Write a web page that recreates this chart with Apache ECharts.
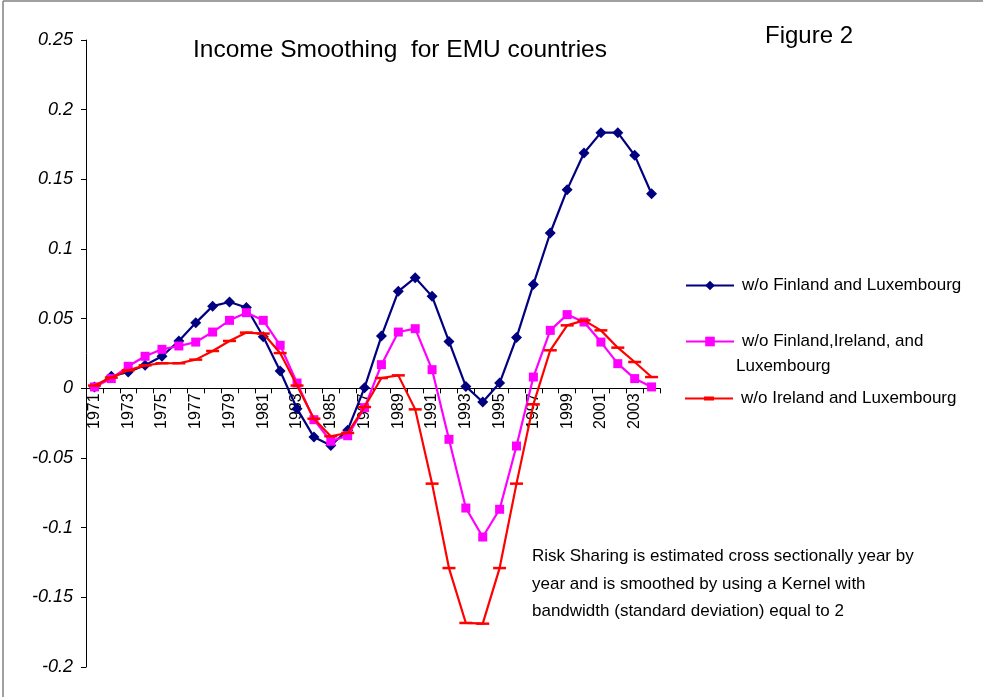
<!DOCTYPE html>
<html>
<head>
<meta charset="utf-8">
<script src="https://cdn.jsdelivr.net/npm/echarts@6/dist/echarts.min.js"></script>
<style>
html,body{margin:0;padding:0;background:#fff;}
#chart{width:983px;height:697px;}
</style>
</head>
<body>
<div id="chart"></div>
<script>
const years = ['1971','1972','1973','1974','1975','1976','1977','1978','1979','1980','1981','1982','1983','1984','1985','1986','1987','1988','1989','1990','1991','1992','1993','1994','1995','1996','1997','1998','1999','2000','2001','2002','2003','2004'];

const seriesNames = ['w/o Finland and Luxembourg', 'w/o Finland,Ireland, and Luxembourg', 'w/o Ireland and Luxembourg'];

const woFinLux = [0.001,0.0086,0.0117,0.0165,0.023,0.034,0.047,0.059,0.062,0.058,0.037,0.0124,-0.0146,-0.035,-0.041,-0.030,0.0005,0.0375,0.0696,0.0794,0.066,0.0337,0.0014,-0.0098,0.0038,0.0364,0.0746,0.1115,0.1426,0.1689,0.1835,0.1835,0.1672,0.1397];

const woFinIreLux = [0.001,0.007,0.0158,0.023,0.028,0.0304,0.0332,0.0404,0.0488,0.0543,0.0488,0.0309,0.0038,-0.0225,-0.038,-0.034,-0.0139,0.017,0.0404,0.0428,0.0134,-0.0366,-0.0859,-0.1067,-0.0868,-0.0414,0.0081,0.0416,0.0529,0.0476,0.0332,0.0177,0.007,0.001];

const woIreLux = [0.002,0.0077,0.0129,0.0165,0.018,0.018,0.0206,0.0268,0.034,0.040,0.0393,0.0253,0.002,-0.0218,-0.0344,-0.032,-0.0134,0.0074,0.0093,-0.0151,-0.0684,-0.129,-0.1684,-0.1689,-0.129,-0.0684,-0.0115,0.0273,0.0452,0.0488,0.0416,0.0292,0.0189,0.0081];

const yMin = -0.2, yMax = 0.25, yStep = 0.05;

const titleText = 'Income Smoothing  for EMU countries';
const figureText = 'Figure 2';
const noteLines = ['Risk Sharing is estimated cross sectionally year by', 'year and is smoothed by using a Kernel with', 'bandwidth (standard deviation) equal to 2'];

const chart = echarts.init(document.getElementById('chart'), null, {renderer: 'canvas'});
const FONT = 'Liberation Sans, Arial, sans-serif';

const gridTop = 40, gridBottom = 30, H = 697;
const plotH = H - gridTop - gridBottom;
// offset to place the category axis at value 0 (axis crosses at zero)
const zeroOffset = -plotH * (0 - yMin) / (yMax - yMin);

const legendBase = {
  orient: 'vertical',
  left: 680,
  itemWidth: 48,
  itemHeight: 12,
  itemGap: 10,
  textStyle: {fontFamily: FONT, fontSize: 17, color: '#000', padding: [0,0,0,3]}
};

chart.setOption({
  animation: false,
  backgroundColor: '#fff',
  title: [
    {text: titleText, left: 188, top: 33, textStyle: {fontFamily: FONT, fontSize: 24.5, fontWeight: 'normal', color: '#000'}},
    {text: figureText, left: 760, top: 19, textStyle: {fontFamily: FONT, fontSize: 24, fontWeight: 'normal', color: '#000'}}
  ],
  legend: [
    Object.assign({}, legendBase, {top: 272, data: [seriesNames[0]]}),
    Object.assign({}, legendBase, {top: 328, data: [seriesNames[1]], formatter: function(){ return 'w/o Finland,Ireland, and'; }}),
    Object.assign({}, legendBase, {top: 385, itemHeight: 4,
      data: [{name: seriesNames[2], icon: 'path://M0,1 H48 V3 H0 Z M19,0 H29 V4 H19 Z'}]})
  ],
  graphic: [
    {type: 'line', shape: {x1: 3, y1: 1, x2: 3, y2: 697}, style: {stroke: '#808080', lineWidth: 1.5}},
    {type: 'line', shape: {x1: 3, y1: 1, x2: 983, y2: 1}, style: {stroke: '#808080', lineWidth: 1.5}},
    {type: 'text', left: 736, top: 358, style: {text: 'Luxembourg', font: '17px ' + FONT, fill: '#000'}},
    {type: 'text', left: 532, top: 543, style: {text: noteLines.join('\n'), font: '17px ' + FONT, fill: '#000', lineHeight: 27.5}}
  ],
  grid: {left: 86, right: 323, top: gridTop, bottom: gridBottom, containLabel: false},
  xAxis: {
    type: 'category',
    data: years,
    boundaryGap: true,
    position: 'bottom',
    offset: zeroOffset,
    axisLine: {onZero: false, lineStyle: {color: '#000', width: 1}},
    axisTick: {show: true, interval: 0, length: 5, lineStyle: {color: '#000'}},
    axisLabel: {interval: 1, rotate: 90, fontFamily: FONT, fontSize: 16, color: '#000', margin: 5},
    splitLine: {show: false}
  },
  yAxis: {
    type: 'value',
    min: yMin,
    max: yMax,
    interval: yStep,
    axisLine: {show: true, lineStyle: {color: '#000', width: 1}},
    axisTick: {show: true, length: 5, lineStyle: {color: '#000'}},
    axisLabel: {fontFamily: FONT, fontSize: 18, fontStyle: 'italic', color: '#000', margin: 13,
      formatter: function(v){ return String(Math.round(v*1000)/1000); }},
    splitLine: {show: false}
  },
  series: [
    {name: seriesNames[0], type: 'line', data: woFinLux, symbol: 'diamond', symbolSize: 11,
      lineStyle: {color: '#000080', width: 2.2}, itemStyle: {color: '#000080'}, z: 3},
    {name: seriesNames[1], type: 'line', data: woFinIreLux, symbol: 'rect', symbolSize: 9,
      lineStyle: {color: '#FF00FF', width: 2.2}, itemStyle: {color: '#FF00FF'}, z: 4},
    {name: seriesNames[2], type: 'line', data: woIreLux, symbol: 'rect', symbolSize: [13, 2.5],
      lineStyle: {color: '#FF0000', width: 2.2}, itemStyle: {color: '#FF0000'}, z: 5}
  ]
});
</script>
</body>
</html>
